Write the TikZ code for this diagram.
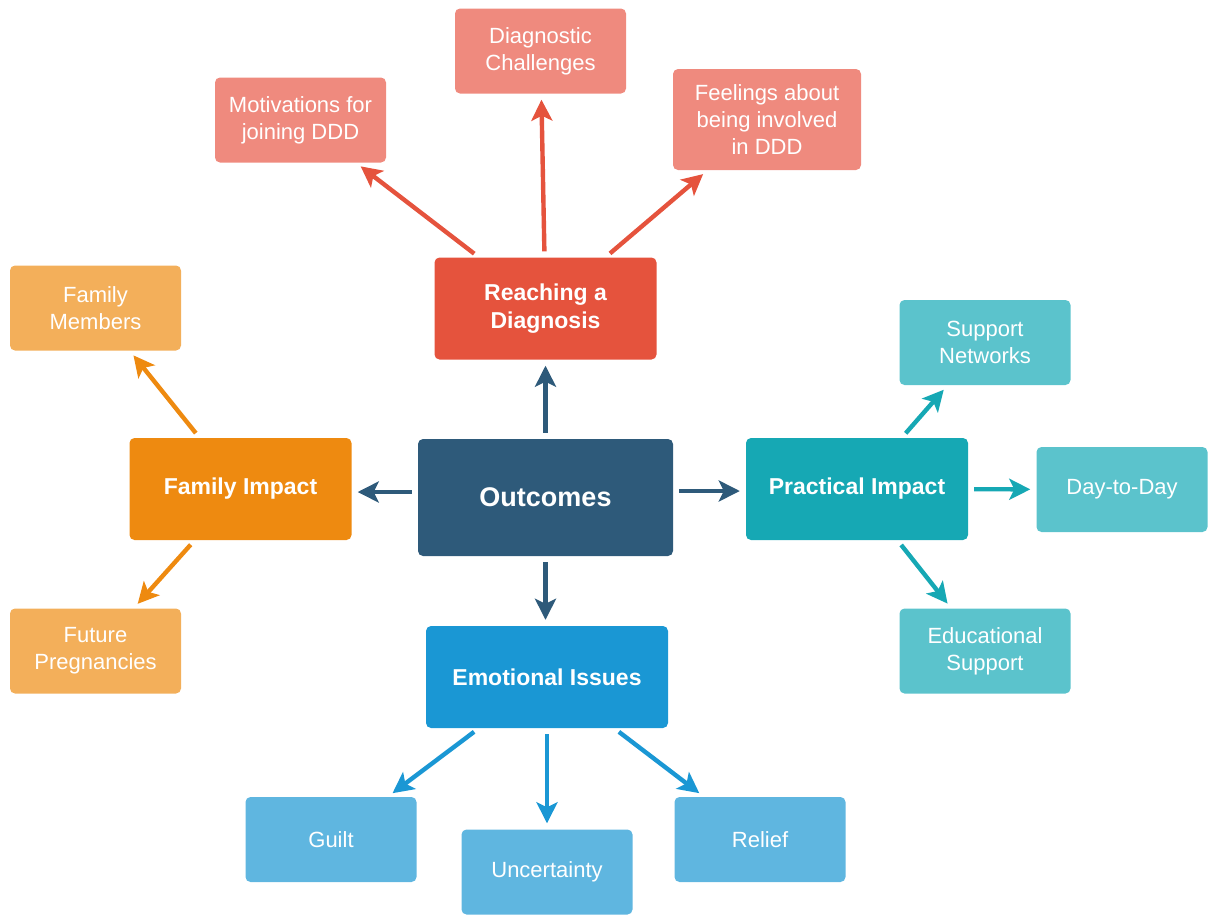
\documentclass[tikz,border=0pt]{standalone}
\usepackage{fontspec}
\setmainfont{Liberation Sans}
\usetikzlibrary{arrows.meta}
\definecolor{hubnavy}{HTML}{2E5A7A}
\definecolor{diagred}{HTML}{E5533D}
\definecolor{diagredlight}{HTML}{EF8A7E}
\definecolor{famorange}{HTML}{EE8A10}
\definecolor{famorangelight}{HTML}{F3AF5A}
\definecolor{practeal}{HTML}{16A8B4}
\definecolor{practeallight}{HTML}{5BC3CC}
\definecolor{emoblue}{HTML}{1A97D4}
\definecolor{emobluelight}{HTML}{5FB6E0}

\begin{document}
\begin{tikzpicture}[
  x=1pt,
  y=-1pt,
  every node/.style={text=white, align=center, inner sep=0pt},
  hub/.style={fill=#1, rounded corners=5pt, minimum width=222pt,
              minimum height=102pt, font=\fontsize{23}{28}\selectfont\bfseries},
  leaf/.style={fill=#1, rounded corners=5pt, minimum width=171pt,
               minimum height=85pt, font=\fontsize{22}{27}\selectfont},
  link/.style={#1, line width=4.4pt,
               -{Stealth[length=21pt, width=21pt, inset=5pt]},
               shorten <=6pt, shorten >=6pt}
]
  % ---- page, same size as the source image -------------------------------
  \useasboundingbox (0,0) rectangle (1208,914);

  % ---- centre -------------------------------------------------------------
  \node[fill=hubnavy, rounded corners=5pt, minimum width=255pt,
        minimum height=117pt, font=\fontsize{27}{32}\selectfont\bfseries]
    (outcomes) at (545.5,497.5) {Outcomes};

  % ---- the four branches --------------------------------------------------
  \node[hub=diagred]   (diagnosis) at (545.5,308.5) {Reaching a\\Diagnosis};
  \node[hub=famorange] (family)    at (240.5,489) {Family Impact};
  \node[hub=practeal]  (practical) at (857,489)   {Practical Impact};
  \node[hub=emoblue, minimum width=242pt]
                       (emotional) at (547,677)   {Emotional Issues};

  % ---- leaves of Reaching a Diagnosis -------------------------------------
  \node[leaf=diagredlight] (motivations) at (300.5,120) {Motivations for\\joining DDD};
  \node[leaf=diagredlight] (challenges)  at (540.5,51)  {Diagnostic\\Challenges};
  \node[leaf=diagredlight, minimum width=188pt, minimum height=101pt]
                           (feelings)    at (767,119.5) {Feelings about\\being involved\\in DDD};

  % ---- leaves of Family Impact --------------------------------------------
  \node[leaf=famorangelight] (members)     at (95.5,308) {Family\\Members};
  \node[leaf=famorangelight] (pregnancies) at (95.5,651) {Future\\Pregnancies};

  % ---- leaves of Practical Impact -----------------------------------------
  \node[leaf=practeallight] (networks)    at (985,342.5) {Support\\Networks};
  \node[leaf=practeallight] (daytoday)    at (1122,489.5) {Day-to-Day};
  \node[leaf=practeallight] (educational) at (985,651)   {Educational\\Support};

  % ---- leaves of Emotional Issues -----------------------------------------
  \node[leaf=emobluelight] (guilt)       at (331,839.5) {Guilt};
  \node[leaf=emobluelight] (uncertainty) at (547,872)   {Uncertainty};
  \node[leaf=emobluelight] (relief)      at (760,839.5) {Relief};

  % ---- arrows out of the centre -------------------------------------------
  \draw[link=hubnavy] (outcomes) -- (diagnosis);
  \draw[link=hubnavy] (outcomes.west |- 0,492) -- (family.east |- 0,492);
  \draw[link=hubnavy] (outcomes.east |- 0,491) -- (practical.west |- 0,491);
  \draw[link=hubnavy] (outcomes.south) -- (emotional.north -| outcomes.south);

  % ---- arrows out of the branches -----------------------------------------
  \draw[link=diagred] (diagnosis) -- (motivations);
  \draw[link=diagred] (diagnosis) -- (challenges);
  \draw[link=diagred] (diagnosis) -- (feelings);

  \draw[link=famorange] (family) -- (members);
  \draw[link=famorange] (family) -- (pregnancies);

  \draw[link=practeal] (practical) -- (networks);
  \draw[link=practeal] (practical) -- (daytoday);
  \draw[link=practeal] (practical) -- (educational);

  \draw[link=emoblue] (emotional) -- (guilt);
  \draw[link=emoblue] (emotional.south) -- (uncertainty.north);
  \draw[link=emoblue] (emotional) -- (relief);

\end{tikzpicture}
\end{document}
